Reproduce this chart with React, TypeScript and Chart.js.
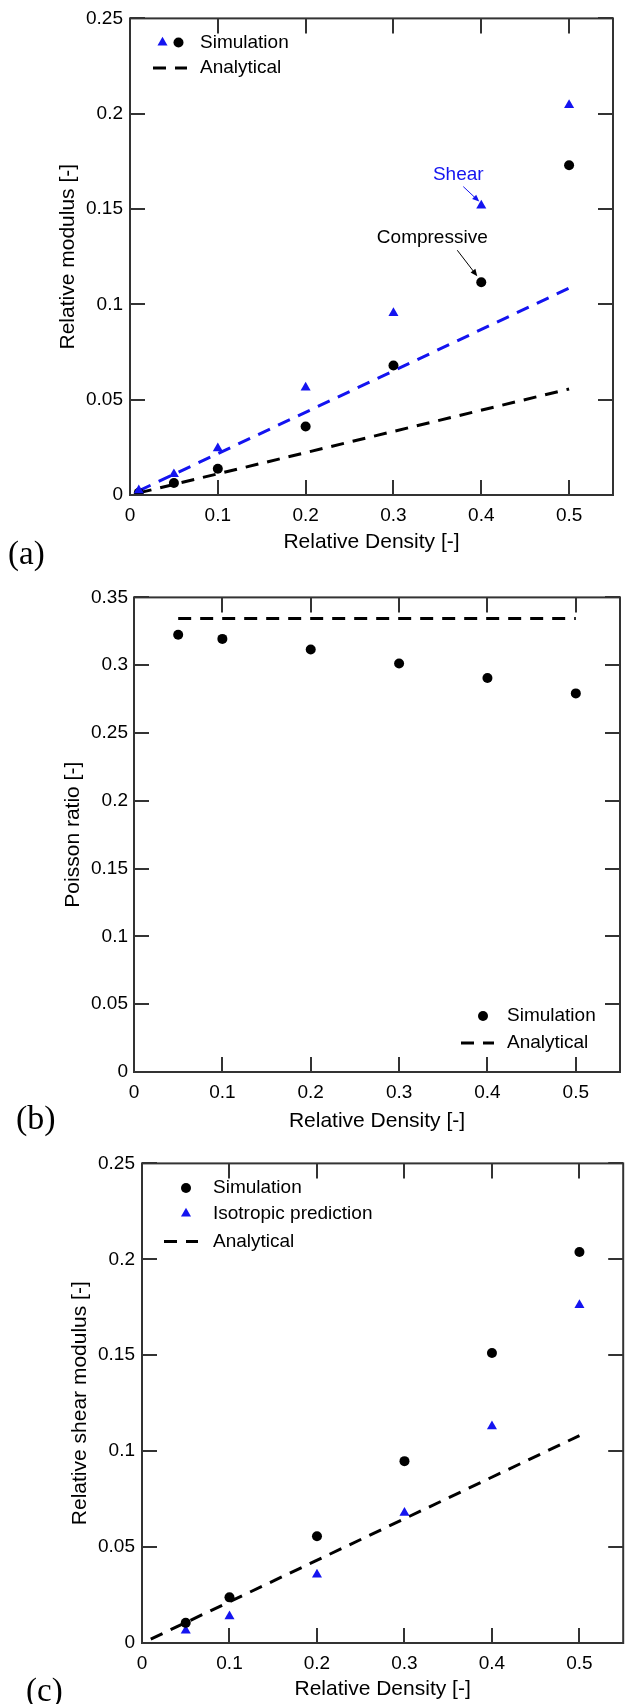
import React, { useEffect, useRef } from "react";
import { Chart, registerables } from "chart.js";

Chart.register(...registerables);

// ---------- data ----------
const xTickValues = [0, 0.1, 0.2, 0.3, 0.4, 0.5];
const yTicksA = [0, 0.05, 0.1, 0.15, 0.2, 0.25];
const yTicksB = [0, 0.05, 0.1, 0.15, 0.2, 0.25, 0.3, 0.35];
const yTicksC = [0, 0.05, 0.1, 0.15, 0.2, 0.25];

// (a) relative modulus
const densityA = [0.01, 0.05, 0.1, 0.2, 0.3, 0.4, 0.5];
const compressiveA = [0.0012, 0.0063, 0.0138, 0.0359, 0.0679, 0.1116, 0.173];
const shearA = [0.0025, 0.0109, 0.0245, 0.0563, 0.0954, 0.1518, 0.2045];
const analyticalDensityA = [0.01, 0.5];
const analyticalCompA = [0.0011, 0.0556];
const analyticalShearA = [0.0022, 0.1085];

// (b) Poisson ratio
const densityB = [0.05, 0.1, 0.2, 0.3, 0.4, 0.5];
const poissonB = [0.3225, 0.3194, 0.3116, 0.3013, 0.2906, 0.2792];
const analyticalDensityB = [0.05, 0.5];
const analyticalPoissonB = [0.3344, 0.3344];

// (c) relative shear modulus
const densityC = [0.05, 0.1, 0.2, 0.3, 0.4, 0.5];
const shearSimC = [0.0105, 0.0238, 0.0556, 0.0948, 0.1512, 0.2038];
const isotropicC = [0.0065, 0.0139, 0.0357, 0.0679, 0.1129, 0.1762];
const analyticalDensityC = [0.01, 0.5];
const analyticalShearC = [0.002, 0.1081];

// ---------- styles ----------
const SANS = "'Liberation Sans', Arial, Helvetica, sans-serif";
const SERIF = "'Liberation Serif', 'Times New Roman', serif";
const BLUE = "#1414f0";
const FRAME = "#333333";
const DASH = [13, 9];
const W = 629;

const pts = (xs: number[], ys: number[]) => xs.map((x, i) => ({ x, y: ys[i] }));
const fmt = (v: number) => String(+Number(v).toFixed(2));

function drawTri(ctx: CanvasRenderingContext2D, x: number, y: number, r: number, color: string) {
  ctx.beginPath();
  ctx.moveTo(x, y - r);
  ctx.lineTo(x + r * 0.866, y + r / 2);
  ctx.lineTo(x - r * 0.866, y + r / 2);
  ctx.closePath();
  ctx.fillStyle = color;
  ctx.fill();
}
function drawCircle(ctx: CanvasRenderingContext2D, x: number, y: number, r: number, color: string) {
  ctx.beginPath();
  ctx.arc(x, y, r, 0, Math.PI * 2);
  ctx.fillStyle = color;
  ctx.fill();
}
function drawArrow(ctx: CanvasRenderingContext2D, x1: number, y1: number, x2: number, y2: number, color: string) {
  ctx.save();
  ctx.strokeStyle = color;
  ctx.fillStyle = color;
  ctx.lineWidth = 1;
  ctx.setLineDash([]);
  const a = Math.atan2(y2 - y1, x2 - x1);
  const L = 7, hw = 3;
  ctx.beginPath();
  ctx.moveTo(x1, y1);
  ctx.lineTo(x2 - Math.cos(a) * L * 0.8, y2 - Math.sin(a) * L * 0.8);
  ctx.stroke();
  ctx.beginPath();
  ctx.moveTo(x2, y2);
  ctx.lineTo(x2 - Math.cos(a) * L - Math.sin(a) * hw, y2 - Math.sin(a) * L + Math.cos(a) * hw);
  ctx.lineTo(x2 - Math.cos(a) * L + Math.sin(a) * hw, y2 - Math.sin(a) * L - Math.cos(a) * hw);
  ctx.closePath();
  ctx.fill();
  ctx.restore();
}

type Marker = { type: "tri" | "circle" | "dash"; x: number; x2?: number; color: string };
type LegendItem = { y: number; text: string; textX: number; markers: Marker[] };
type Note = { px: number; py: number; text: string; color: string; dx: number; dy: number; ax1: number; ay1: number; ax2: number; ay2: number };

type Panel = {
  top: number;
  height: number;
  padTop: number;
  padRight: number;
  yWidth: number;
  xHeight: number;
  yMax: number;
  yTicks: number[];
  yTitle: string;
  yTitlePad: number;
  xTitlePad: number;
  xLabelPad: number;
  yLabelPad: number;
  datasets: any[];
  legend: LegendItem[];
  label: { text: string; x: number; y: number; size: number };
  notes?: Note[];
};

const lineDs = (xs: number[], ys: number[], color: string) => ({
  data: pts(xs, ys),
  showLine: true,
  borderColor: color,
  borderWidth: 3,
  borderDash: DASH,
  pointRadius: 0,
  fill: false,
});
const circleDs = (xs: number[], ys: number[], color: string) => ({
  data: pts(xs, ys),
  showLine: false,
  pointStyle: "circle",
  pointRadius: 5,
  backgroundColor: color,
  borderColor: color,
  borderWidth: 0,
});
const triDs = (xs: number[], ys: number[], color: string) => ({
  data: pts(xs, ys),
  showLine: false,
  pointStyle: "triangle",
  pointRadius: 5.8,
  backgroundColor: color,
  borderColor: color,
  borderWidth: 0,
});

const panels: Panel[] = [
  {
    top: 0,
    height: 580,
    padTop: 13,
    padRight: 16,
    yWidth: 130,
    xHeight: 85,
    yMax: 0.25,
    yTicks: yTicksA,
    yTitle: "Relative modulus [-]",
    yTitlePad: 56,
    xTitlePad: 25,
    xLabelPad: 9,
    yLabelPad: 7,
    datasets: [
      triDs(densityA, shearA, BLUE),
      circleDs(densityA, compressiveA, "#000"),
      lineDs(analyticalDensityA, analyticalShearA, BLUE),
      lineDs(analyticalDensityA, analyticalCompA, "#000"),
    ],
    legend: [
      {
        y: 42.5,
        text: "Simulation",
        textX: 200,
        markers: [
          { type: "tri", x: 162.5, color: BLUE },
          { type: "circle", x: 178.5, color: "#000" },
        ],
      },
      { y: 68, text: "Analytical", textX: 200, markers: [{ type: "dash", x: 153, x2: 187, color: "#000" }] },
    ],
    label: { text: "(a)", x: 8, y: 564, size: 33 },
    notes: [
      { px: densityA[5], py: shearA[5], text: "Shear", color: BLUE, dx: -23, dy: -31, ax1: -18, ay1: -19, ax2: -2, ay2: -4 },
      { px: densityA[5], py: compressiveA[5], text: "Compressive", color: "#000", dx: -49, dy: -44, ax1: -24, ay1: -32, ax2: -4, ay2: -6 },
    ],
  },
  {
    top: 580,
    height: 565,
    padTop: 10,
    padRight: 9,
    yWidth: 134,
    xHeight: 73,
    yMax: 0.35,
    yTicks: yTicksB,
    yTitle: "Poisson ratio [-]",
    yTitlePad: 61,
    xTitlePad: 11,
    xLabelPad: 9.5,
    yLabelPad: 6,
    datasets: [
      circleDs(densityB, poissonB, "#000"),
      lineDs(analyticalDensityB, analyticalPoissonB, "#000"),
    ],
    legend: [
      { y: 436, text: "Simulation", textX: 507, markers: [{ type: "circle", x: 483, color: "#000" }] },
      { y: 463, text: "Analytical", textX: 507, markers: [{ type: "dash", x: 461, x2: 494, color: "#000" }] },
    ],
    label: { text: "(b)", x: 16, y: 549, size: 34 },
  },
  {
    top: 1145,
    height: 559,
    padTop: 13,
    padRight: 1,
    yWidth: 142,
    xHeight: 61,
    yMax: 0.25,
    yTicks: yTicksC,
    yTitle: "Relative shear modulus [-]",
    yTitlePad: 68,
    xTitlePad: 2.4,
    xLabelPad: 9,
    yLabelPad: 7,
    datasets: [
      circleDs(densityC, shearSimC, "#000"),
      triDs(densityC, isotropicC, BLUE),
      lineDs(analyticalDensityC, analyticalShearC, "#000"),
    ],
    legend: [
      { y: 43, text: "Simulation", textX: 213, markers: [{ type: "circle", x: 186, color: "#000" }] },
      { y: 68.6, text: "Isotropic prediction", textX: 213, markers: [{ type: "tri", x: 186, color: BLUE }] },
      { y: 96.4, text: "Analytical", textX: 213, markers: [{ type: "dash", x: 164, x2: 198, color: "#000" }] },
    ],
    label: { text: "(c)", x: 26, y: 556, size: 33 },
  },
];

function decorPlugin(p: Panel) {
  return {
    id: "decor",
    afterDraw(chart: any) {
      const ctx: CanvasRenderingContext2D = chart.ctx;
      const { left, right, top, bottom } = chart.chartArea;
      const xs = chart.scales.x;
      const ys = chart.scales.y;
      ctx.save();
      // frame
      ctx.strokeStyle = FRAME;
      ctx.lineWidth = 2;
      ctx.setLineDash([]);
      ctx.strokeRect(left, top, right - left, bottom - top);
      // inward ticks on all sides
      const TL = 15;
      ctx.beginPath();
      xs.ticks.forEach((t: any) => {
        const x = Math.round(xs.getPixelForValue(t.value));
        ctx.moveTo(x, bottom);
        ctx.lineTo(x, bottom - TL);
        ctx.moveTo(x, top);
        ctx.lineTo(x, top + TL);
      });
      ys.ticks.forEach((t: any) => {
        const y = Math.round(ys.getPixelForValue(t.value));
        ctx.moveTo(left, y);
        ctx.lineTo(left + TL, y);
        ctx.moveTo(right, y);
        ctx.lineTo(right - TL, y);
      });
      ctx.stroke();

      // legend
      ctx.font = `19px ${SANS}`;
      ctx.textBaseline = "middle";
      ctx.textAlign = "left";
      p.legend.forEach((it) => {
        it.markers.forEach((m) => {
          if (m.type === "tri") drawTri(ctx, m.x, it.y, 5.8, m.color);
          else if (m.type === "circle") drawCircle(ctx, m.x, it.y, 5, m.color);
          else {
            ctx.save();
            ctx.strokeStyle = m.color;
            ctx.lineWidth = 3;
            ctx.setLineDash(DASH);
            ctx.beginPath();
            ctx.moveTo(m.x, it.y);
            ctx.lineTo(m.x2 as number, it.y);
            ctx.stroke();
            ctx.restore();
          }
        });
        ctx.fillStyle = "#000";
        ctx.fillText(it.text, it.textX, it.y);
      });

      // annotations
      (p.notes || []).forEach((n) => {
        const px = xs.getPixelForValue(n.px);
        const py = ys.getPixelForValue(n.py);
        ctx.fillStyle = n.color;
        ctx.textAlign = "center";
        ctx.font = `19px ${SANS}`;
        ctx.fillText(n.text, px + n.dx, py + n.dy);
        drawArrow(ctx, px + n.ax1, py + n.ay1, px + n.ax2, py + n.ay2, n.color);
      });

      // panel label
      ctx.fillStyle = "#000";
      ctx.textAlign = "left";
      ctx.textBaseline = "alphabetic";
      ctx.font = `${p.label.size}px ${SERIF}`;
      ctx.fillText(p.label.text, p.label.x, p.label.y);
      ctx.restore();
    },
  };
}

function makeConfig(p: Panel): any {
  return {
    type: "scatter",
    data: { datasets: p.datasets },
    options: {
      responsive: false,
      maintainAspectRatio: false,
      animation: false,
      devicePixelRatio: 1,
      layout: { padding: { left: 0, right: p.padRight, top: p.padTop, bottom: 0 } },
      plugins: { legend: { display: false }, tooltip: { enabled: false } },
      scales: {
        x: {
          type: "linear",
          position: "bottom",
          min: 0,
          max: 0.55,
          afterBuildTicks: (s: any) => {
            s.ticks = xTickValues.map((v) => ({ value: v }));
          },
          afterFit: (s: any) => {
            s.height = p.xHeight;
          },
          grid: { display: false, drawTicks: false },
          border: { display: false },
          ticks: {
            autoSkip: false,
            maxRotation: 0,
            padding: p.xLabelPad,
            color: "#000",
            font: { family: SANS, size: 19 },
            callback: (v: any) => fmt(v),
          },
          title: {
            display: true,
            text: "Relative Density [-]",
            color: "#000",
            font: { family: SANS, size: 21 },
            padding: { top: 0, bottom: p.xTitlePad },
          },
        },
        y: {
          type: "linear",
          position: "left",
          min: 0,
          max: p.yMax,
          afterBuildTicks: (s: any) => {
            s.ticks = p.yTicks.map((v) => ({ value: v }));
          },
          afterFit: (s: any) => {
            s.width = p.yWidth;
          },
          grid: { display: false, drawTicks: false },
          border: { display: false },
          ticks: {
            autoSkip: false,
            padding: p.yLabelPad,
            color: "#000",
            font: { family: SANS, size: 19 },
            callback: (v: any) => fmt(v),
          },
          title: {
            display: true,
            text: p.yTitle,
            color: "#000",
            font: { family: SANS, size: 21 },
            padding: { top: p.yTitlePad, bottom: 0 },
          },
        },
      },
    },
    plugins: [decorPlugin(p)],
  };
}

function PanelChart({ p }: { p: Panel }) {
  const ref = useRef<HTMLCanvasElement | null>(null);
  useEffect(() => {
    if (!ref.current) return;
    const chart = new Chart(ref.current, makeConfig(p));
    return () => chart.destroy();
  }, [p]);
  return (
    <canvas
      ref={ref}
      width={W}
      height={p.height}
      style={{ position: "absolute", left: 0, top: p.top, width: W, height: p.height, display: "block" }}
    />
  );
}

export default function App() {
  useEffect(() => {
    document.body.style.margin = "0";
    document.body.style.background = "#fff";
  }, []);
  return (
    <div style={{ position: "relative", width: W, height: 1704, background: "#fff", overflow: "hidden" }}>
      {panels.map((p, i) => (
        <PanelChart key={i} p={p} />
      ))}
    </div>
  );
}
